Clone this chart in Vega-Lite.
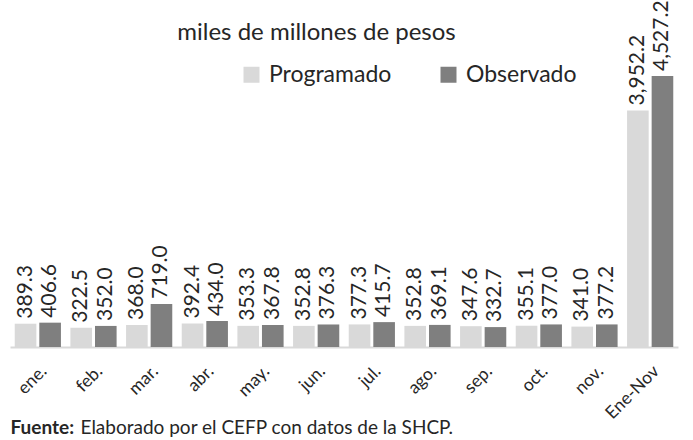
{
  "$schema": "https://vega.github.io/schema/vega-lite/v6.json",
  "width": 668,
  "height": 300,
  "autosize": {"type": "none"},
  "padding": {"left": 10, "top": 47, "right": 15, "bottom": 93},
  "background": "white",
  "config": {"font": "Lato", "view": {"stroke": null}},
  "data": {
    "values": [
      {"mes": "ene.", "serie": "Programado", "valor": 389.3},
      {"mes": "ene.", "serie": "Observado", "valor": 406.6},
      {"mes": "feb.", "serie": "Programado", "valor": 322.5},
      {"mes": "feb.", "serie": "Observado", "valor": 352.0},
      {"mes": "mar.", "serie": "Programado", "valor": 368.0},
      {"mes": "mar.", "serie": "Observado", "valor": 719.0},
      {"mes": "abr.", "serie": "Programado", "valor": 392.4},
      {"mes": "abr.", "serie": "Observado", "valor": 434.0},
      {"mes": "may.", "serie": "Programado", "valor": 353.3},
      {"mes": "may.", "serie": "Observado", "valor": 367.8},
      {"mes": "jun.", "serie": "Programado", "valor": 352.8},
      {"mes": "jun.", "serie": "Observado", "valor": 376.3},
      {"mes": "jul.", "serie": "Programado", "valor": 377.3},
      {"mes": "jul.", "serie": "Observado", "valor": 415.7},
      {"mes": "ago.", "serie": "Programado", "valor": 352.8},
      {"mes": "ago.", "serie": "Observado", "valor": 369.1},
      {"mes": "sep.", "serie": "Programado", "valor": 347.6},
      {"mes": "sep.", "serie": "Observado", "valor": 332.7},
      {"mes": "oct.", "serie": "Programado", "valor": 355.1},
      {"mes": "oct.", "serie": "Observado", "valor": 377.0},
      {"mes": "nov.", "serie": "Programado", "valor": 341.0},
      {"mes": "nov.", "serie": "Observado", "valor": 377.2},
      {"mes": "Ene-Nov", "serie": "Programado", "valor": 3952.2},
      {"mes": "Ene-Nov", "serie": "Observado", "valor": 4527.2}
    ]
  },
  "encoding": {
    "x": {
      "field": "mes",
      "type": "nominal",
      "sort": ["ene.", "feb.", "mar.", "abr.", "may.", "jun.", "jul.", "ago.", "sep.", "oct.", "nov.", "Ene-Nov"],
      "scale": {"paddingInner": 0.17, "paddingOuter": 0.085},
      "axis": {
        "labelAngle": -45,
        "labelAlign": "right",
        "labelBaseline": "top",
        "labelFontSize": 17.5,
        "labelColor": "#262626",
        "labelPadding": 15,
        "labelOffset": 0,
        "ticks": false,
        "domainColor": "#d9d9d9",
        "domainWidth": 2,
        "title": "Fuente:",
        "titleFontWeight": "bold",
        "titleFontSize": 19,
        "titleColor": "#262626",
        "titleAnchor": "start",
        "titleAlign": "left",
        "titleBaseline": "alphabetic",
        "titleX": 0,
        "titleY": 86
      }
    },
    "xOffset": {
      "field": "serie",
      "type": "nominal",
      "sort": ["Programado", "Observado"],
      "scale": {"paddingInner": 0.12}
    }
  },
  "resolve": {"axis": {"y": "independent"}},
  "layer": [
    {
      "mark": {"type": "bar"},
      "encoding": {
        "y": {
          "field": "valor",
          "type": "quantitative",
          "scale": {"domain": [0, 5012], "nice": false, "zero": true},
          "axis": {
            "orient": "left",
            "labels": false,
            "ticks": false,
            "domain": false,
            "grid": false,
            "title": "miles de millones de pesos",
            "titleAngle": 0,
            "titleAlign": "center",
            "titleBaseline": "alphabetic",
            "titleX": 306,
            "titleY": -8,
            "titleFontSize": 24,
            "titleFontWeight": "normal",
            "titleColor": "#262626"
          }
        },
        "color": {
          "field": "serie",
          "type": "nominal",
          "sort": ["Programado", "Observado"],
          "scale": {"range": ["#d9d9d9", "#7f7f7f"]},
          "legend": {
            "orient": "none",
            "legendX": 230,
            "legendY": 16,
            "direction": "horizontal",
            "title": null,
            "symbolType": "square",
            "symbolSize": 256,
            "symbolStrokeWidth": 0,
            "labelFontSize": 23,
            "labelColor": "#262626",
            "labelOffset": 6,
            "columnPadding": 45
          }
        }
      }
    },
    {
      "mark": {"type": "text", "angle": 270, "align": "left", "baseline": "middle", "dx": 5, "fontSize": 21, "color": "#262626"},
      "encoding": {
        "y": {
          "field": "valor",
          "type": "quantitative",
          "scale": {"domain": [0, 5012], "nice": false, "zero": true},
          "axis": {
            "orient": "right",
            "labels": false,
            "ticks": false,
            "domain": false,
            "grid": false,
            "title": "Elaborado por el CEFP con datos de la SHCP.",
            "titleAngle": 0,
            "titleAlign": "left",
            "titleBaseline": "alphabetic",
            "titleX": -598,
            "titleY": 386,
            "titleFontSize": 19,
            "titleFontWeight": "normal",
            "titleColor": "#262626"
          }
        },
        "text": {"field": "valor", "type": "quantitative", "format": ",.1f"}
      }
    }
  ]
}
